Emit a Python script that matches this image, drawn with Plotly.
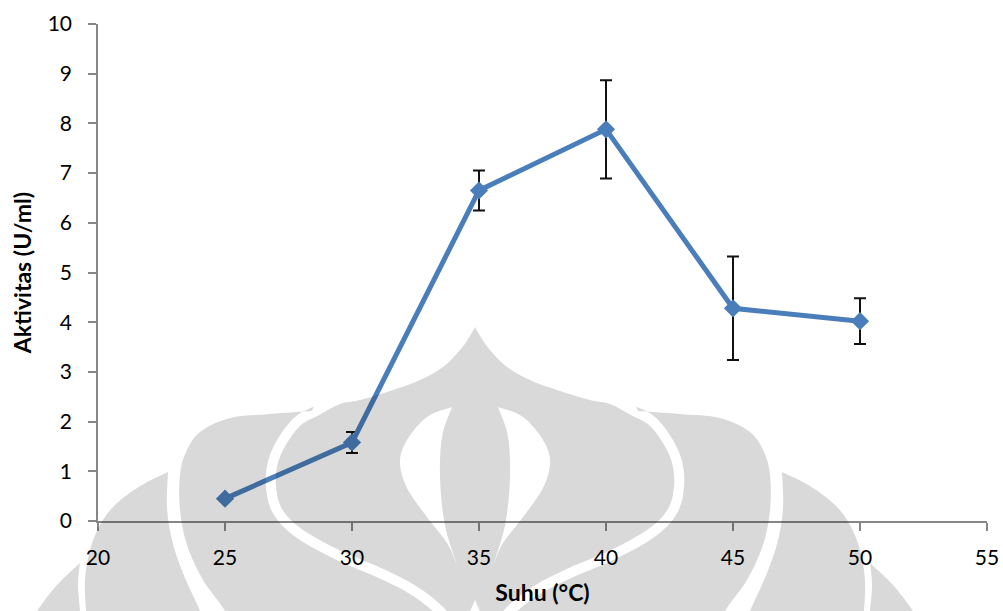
import numpy as np
import plotly.graph_objects as go

# Enzyme activity vs temperature
suhu = [25, 30, 35, 40, 45, 50]
aktivitas = [0.45, 1.58, 6.65, 7.88, 4.28, 4.02]
galat = [0.0, 0.21, 0.40, 0.99, 1.04, 0.46]

x_ticks = [20, 25, 30, 35, 40, 45, 50, 55]
y_ticks = list(range(0, 11))

# figure geometry (pixels)
W, H = 1003, 611
ML, MR, MT, MB = 98, 16, 24, 90
PW, PH = W - ML - MR, H - MT - MB
AXIS_X0 = ML
AXIS_Y0 = MT + PH


def to_paper(pts):
    pts = np.asarray(pts, float)
    return np.column_stack([(pts[:, 0] - AXIS_X0) / PW, (AXIS_Y0 - pts[:, 1]) / PH])


def spline(pts, n=10):
    """Catmull-Rom curve through the given pixel points."""
    pts = np.asarray(pts, float)
    p = np.vstack([pts[0], pts, pts[-1]])
    out = []
    for i in range(1, len(p) - 2):
        p0, p1, p2, p3 = p[i - 1], p[i], p[i + 1], p[i + 2]
        for t in np.linspace(0, 1, n, endpoint=False):
            t2, t3 = t * t, t * t * t
            out.append(0.5 * (2 * p1 + (-p0 + p2) * t
                              + (2 * p0 - 5 * p1 + 4 * p2 - p3) * t2
                              + (-p0 + 3 * p1 - 3 * p2 + p3) * t3))
    out.append(p[-2])
    return np.array(out)


def mirror(pts, cx=475.0):
    pts = np.asarray(pts, float).copy()
    pts[:, 0] = 2 * cx - pts[:, 0]
    return pts


def ring(pts):
    q = to_paper(pts)
    return "M " + " L ".join(f"{a:.5f},{b:.5f}" for a, b in q) + " Z"


# ---- watermark emblem (left half described, right half mirrored) ----
centre = spline([(316, 411), (298, 421), (283, 440), (273, 462), (271, 487),
                 (278, 512), (300, 534), (340, 556), (380, 573), (413, 590),
                 (440, 611), (455, 632)], 8)
tang = np.gradient(centre, axis=0)
tang /= np.linalg.norm(tang, axis=1, keepdims=True)
normal = np.column_stack([-tang[:, 1], tang[:, 0]])
band = 5.0
edge_out = centre + band * normal     # wing side of the white band
edge_in = centre - band * normal      # dome side of the white band

wing_outer = spline([(232, 632), (225, 611), (203, 580), (187, 545), (180, 510),
                     (180, 475), (186, 452), (200, 432), (230, 418), (270, 414),
                     (312, 411)], 8)
wing_left = np.vstack([wing_outer, edge_out])
wing_right = mirror(wing_left)

dome_edge = spline([tuple(edge_in[0]), (340, 404), (360, 400), (393, 390),
                    (420, 380), (443, 367), (460, 350), (468, 339), (475, 327)], 8)
inner = np.vstack([
    edge_in[::-1],
    dome_edge,
    mirror(dome_edge)[::-1],
    mirror(edge_in),
])

tear_outer = spline([(452, 407), (427, 417), (407, 440), (400, 462), (407, 488),
                     (427, 517), (447, 543), (457, 565)], 8)
tear_inner = spline([(457, 565), (446, 530), (441, 495), (440, 460), (443, 432),
                     (452, 407)], 8)
tear_left = np.vstack([tear_outer, tear_inner])
tear_right = mirror(tear_left)
notch = np.array([(468, 616), (475, 600), (482, 616)], float)

flame_in = spline([(168, 472), (167, 507), (172, 540), (183, 573), (200, 611),
                   (208, 632)], 8)
flame_out = spline([(88, 632), (86, 611), (85, 580), (90, 550), (100, 525),
                    (115, 505), (140, 486), (168, 472)], 8)
flame_left = np.vstack([flame_in, flame_out])
flame_right = mirror(flame_left)

tail_left = np.vstack([
    spline([(80, 563), (78, 585), (80, 611), (81, 632)], 8),
    spline([(25, 632), (37, 611), (57, 585), (80, 563)], 8),
])
tail_right = mirror(tail_left)

veil = "rgba(0,0,0,0.15)"
emblem_paths = [
    ring(wing_left), ring(wing_right),
    ring(inner) + " " + ring(tear_left) + " " + ring(tear_right) + " " + ring(notch),
    ring(flame_left), ring(flame_right),
    ring(tail_left), ring(tail_right),
]
shapes = [dict(type="path", path=p, xref="paper", yref="paper",
               fillcolor=veil, line=dict(width=0), layer="above",
               fillrule="evenodd")
          for p in emblem_paths]

# ---- chart ----
blue = "#4a7ebb"
axis_grey = "#868686"
font_family = "Lato, 'Open Sans', sans-serif"

fig = go.Figure()
fig.add_trace(go.Scatter(
    x=suhu, y=aktivitas,
    mode="lines+markers",
    line=dict(color=blue, width=5),
    marker=dict(symbol="diamond", size=14, color=blue),
    error_y=dict(type="data", array=galat, symmetric=True,
                 color="#111111", thickness=2, width=6),
    showlegend=False,
))

fig.update_layout(
    width=W, height=H,
    margin=dict(l=ML, r=MR, t=MT, b=MB),
    paper_bgcolor="white",
    plot_bgcolor="rgba(0,0,0,0)",
    font=dict(family=font_family, size=21, color="#000000"),
    shapes=shapes,
    xaxis=dict(
        range=[20, 55], tickvals=x_ticks, ticktext=[str(v) for v in x_ticks],
        showgrid=False, zeroline=False, automargin=False,
        showline=True, linecolor=axis_grey, linewidth=1.5,
        ticks="outside", ticklen=8, tickcolor=axis_grey, tickwidth=1.5,
        ticklabelstandoff=9,
        title=dict(text="<b>Suhu (°C)</b>", font=dict(size=23), standoff=17),
    ),
    yaxis=dict(
        range=[0, 10], tickvals=y_ticks, ticktext=[str(v) for v in y_ticks],
        showgrid=False, zeroline=False, automargin=False,
        showline=True, linecolor=axis_grey, linewidth=1.5,
        ticks="outside", ticklen=8, tickcolor=axis_grey, tickwidth=1.5,
        ticklabelstandoff=12,
        title=dict(text="<b>Aktivitas (U/ml)</b>", font=dict(size=23), standoff=10),
    ),
)

fig.write_html("out.html")
